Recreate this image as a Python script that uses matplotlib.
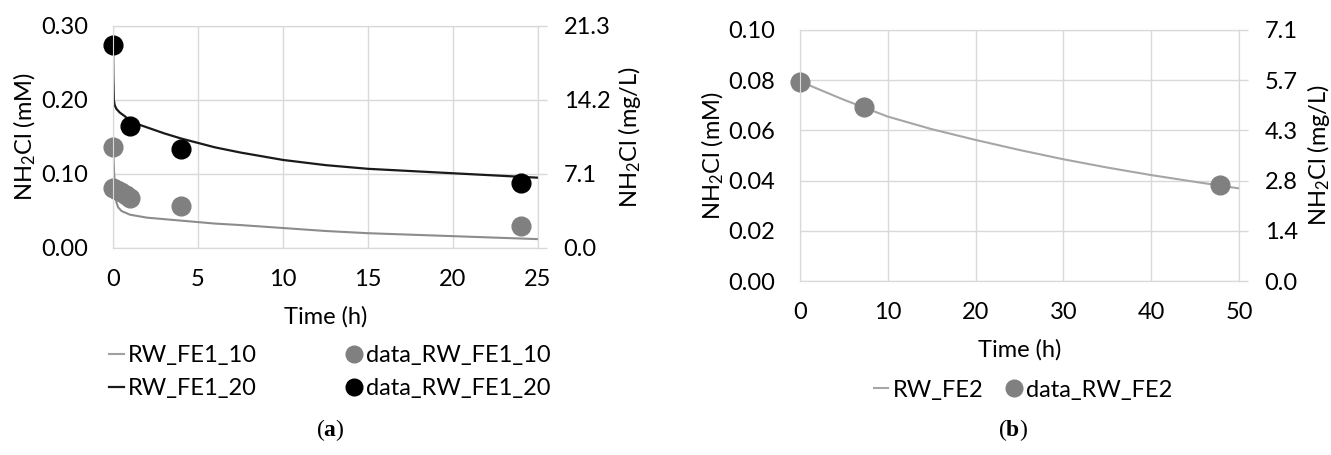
import matplotlib

matplotlib.use("Agg")
import matplotlib.pyplot as plt
from matplotlib.lines import Line2D

# conversion factor used on the right-hand axes (mg/L per mM)
MG_PER_MM = 71.0

# ---- panel (a) ----
a_model10_t = [0, 0.05, 0.1, 0.15, 0.2, 0.3, 0.5, 0.8, 1, 1.5, 2, 3, 4, 5, 6, 7.5, 10, 12.5, 15, 17.5, 20, 22.5, 25]
a_model10_c = [0.137, 0.11, 0.085, 0.07, 0.062, 0.055, 0.05, 0.047, 0.045, 0.043, 0.041, 0.039, 0.037, 0.035,
               0.033, 0.031, 0.027, 0.023, 0.020, 0.018, 0.016, 0.014, 0.012]
a_model20_t = [0, 0.02, 0.05, 0.1, 0.2, 0.4, 0.7, 1, 1.5, 2, 3, 4, 5, 6, 7.5, 10, 12.5, 15, 17.5, 20, 22.5, 25]
a_model20_c = [0.275, 0.23, 0.2, 0.193, 0.188, 0.183, 0.178, 0.172, 0.167, 0.163, 0.155, 0.148, 0.142, 0.136,
               0.129, 0.119, 0.112, 0.107, 0.104, 0.101, 0.098, 0.095]
a_data10_t = [0, 0, 0.25, 0.5, 0.75, 1, 4, 24]
a_data10_c = [0.137, 0.081, 0.078, 0.075, 0.071, 0.068, 0.057, 0.030]
a_data20_t = [0, 1, 4, 24]
a_data20_c = [0.275, 0.165, 0.134, 0.088]
a_xticks = [0, 5, 10, 15, 20, 25]
a_yticks = [0.00, 0.10, 0.20, 0.30]

# ---- panel (b) ----
b_model_t = [0, 5, 10, 15, 20, 25, 30, 35, 40, 45, 50]
b_model_c = [0.0795, 0.0722, 0.0655, 0.0605, 0.0562, 0.0522, 0.0485, 0.0452, 0.0422, 0.0395, 0.0369]
b_data_t = [0, 7.25, 47.8]
b_data_c = [0.0794, 0.0692, 0.0382]
b_xticks = [0, 10, 20, 30, 40, 50]
b_yticks = [0.00, 0.02, 0.04, 0.06, 0.08, 0.10]

GRID = "#d9d9d9"
GRAY_DOT = "#808080"
FS = 17

plt.rcParams.update(
    {
        "font.family": ["Lato", "DejaVu Sans"],
        "font.size": FS,
        "mathtext.fontset": "custom",
        "mathtext.rm": "Lato",
        "mathtext.it": "Lato:italic",
        "mathtext.bf": "Liberation Serif:bold",
    }
)

W, H = 1331, 455


def px_axes(fig, left, top, right, bottom):
    return fig.add_axes([left / W, 1 - bottom / H, (right - left) / W, (bottom - top) / H])


def style_axes(ax, xticks, yticks, xmax, ymax):
    ax.set_xlim(0, xmax)
    ax.set_ylim(0, ymax)
    ax.set_xticks(xticks)
    ax.set_yticks(yticks)
    ax.set_yticklabels([f"{v:.2f}" for v in yticks])
    ax.grid(True, color=GRID, lw=1)
    ax.set_axisbelow(True)
    for s in ax.spines.values():
        s.set_color(GRID)
    ax.tick_params(axis="x", length=0, pad=15)
    ax.tick_params(axis="y", length=0, pad=18)
    ax.set_xlabel("Time (h)", labelpad=12)
    ax.set_ylabel(r"NH$_2$Cl (mM)")

    rax = ax.twinx()
    rax.set_ylim(0, ymax * MG_PER_MM)
    rax.set_yticks([v * MG_PER_MM for v in yticks])
    rax.set_yticklabels([f"{v * MG_PER_MM:.1f}" for v in yticks])
    rax.tick_params(axis="y", length=6.5, width=1, color=GRID, pad=12)
    for s in rax.spines.values():
        s.set_color(GRID)
    rax.set_ylabel(r"NH$_2$Cl (mg/L)")
    return rax


def main() -> None:
    fig = plt.figure(figsize=(W / 100, H / 100), dpi=100)

    # panel (a)
    ax = px_axes(fig, 113, 26, 538, 248)
    rax = style_axes(ax, a_xticks, a_yticks, 25, 0.30)
    ax.plot(a_model10_t, a_model10_c, color="#8c8c8c", lw=1.5)
    ax.plot(a_model20_t, a_model20_c, color="#1a1a1a", lw=1.6)
    ax.plot(a_data10_t, a_data10_c, "o", color=GRAY_DOT, ms=13.5, clip_on=False, zorder=4)
    ax.plot(a_data20_t, a_data20_c, "o", color="black", ms=13.5, clip_on=False, zorder=5)
    ax.yaxis.set_label_coords(-0.176, 0.5)
    rax.yaxis.set_label_coords(1.184, 0.5)

    h = [
        Line2D([], [], color="#a0a0a0", lw=1.5),
        Line2D([], [], color="#1a1a1a", lw=1.6),
        Line2D([], [], ls="none", marker="o", color=GRAY_DOT, ms=12),
        Line2D([], [], ls="none", marker="o", color="black", ms=12),
    ]
    fig.legend(
        h,
        ["RW_FE1_10", "RW_FE1_20", "data_RW_FE1_10", "data_RW_FE1_20"],
        ncol=2,
        loc="center",
        bbox_to_anchor=(330 / W, 1 - 372 / H),
        frameon=False,
        handlelength=0.6,
        handletextpad=0.2,
        columnspacing=3.8,
        labelspacing=0.5,
        borderpad=0,
    )

    # panel (b)
    bx = px_axes(fig, 800, 30, 1239, 281)
    rbx = style_axes(bx, b_xticks, b_yticks, 50, 0.10)
    bx.plot(b_model_t, b_model_c, color="#a6a6a6", lw=1.5)
    bx.plot(b_data_t, b_data_c, "o", color=GRAY_DOT, ms=13.5, clip_on=False, zorder=4)
    bx.yaxis.set_label_coords(-0.169, 0.5)
    rbx.yaxis.set_label_coords(1.150, 0.5)

    hb = [
        Line2D([], [], color="#a6a6a6", lw=1.5),
        Line2D([], [], ls="none", marker="o", color=GRAY_DOT, ms=12),
    ]
    fig.legend(
        hb,
        ["RW_FE2", "data_RW_FE2"],
        ncol=2,
        loc="center",
        bbox_to_anchor=(1023 / W, 1 - 390 / H),
        frameon=False,
        handlelength=0.6,
        handletextpad=0.2,
        columnspacing=1.0,
        borderpad=0,
    )

    fig.text(330 / W, 1 - 430 / H, r"($\mathbf{a}$)", ha="center", va="center",
             family="Liberation Serif", fontsize=17)
    fig.text(1013 / W, 1 - 430 / H, r"($\mathbf{b}$)", ha="center", va="center",
             family="Liberation Serif", fontsize=17)

    fig.savefig("out.png", dpi=100)
    plt.close(fig)


if __name__ == "__main__":
    main()
